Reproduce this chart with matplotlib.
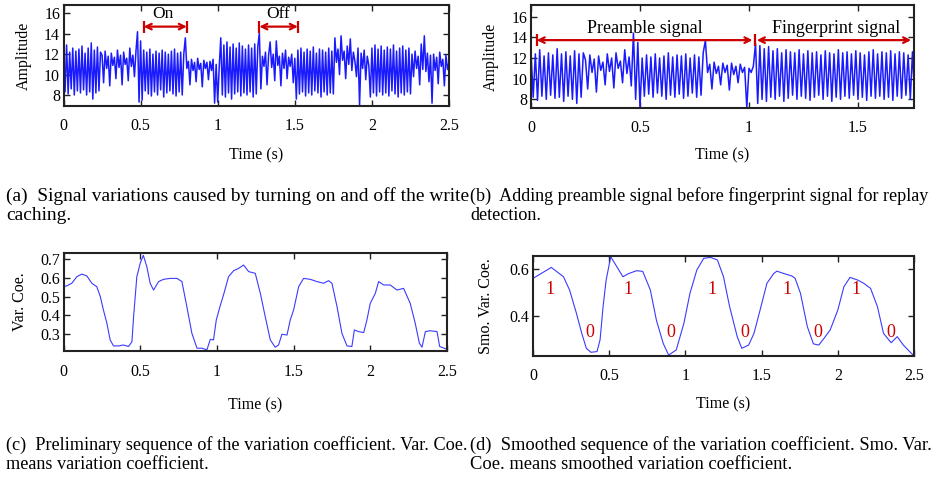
"""Four-panel write-caching signal figure with captions."""

import matplotlib

matplotlib.use("Agg")
import matplotlib.pyplot as plt
import numpy as np

# (a) raw amplitude, sampled every 0.01 s over 0-2.5 s
amp_a = [
    12.4, 8.3, 12.9, 8.1, 12.2, 8.6, 12.6, 8.0, 12.3, 8.4,
    12.5, 8.2, 12.8, 8.5, 12.1, 8.0, 12.6, 8.3, 13.1, 7.6,
    12.4, 8.2, 12.7, 8.4, 12.2,
    11.9, 9.2, 12.3, 10.6, 11.8,
    8.9, 12.1, 10.9, 11.7, 9.6, 12.4, 10.7, 11.9, 9.0, 12.2,
    11.0, 11.6, 9.4, 12.6, 10.8, 11.9, 9.8, 12.3,
    14.2, 7.3, 13.3, 7.5, 12.4,
    8.4, 12.2, 8.1, 12.5, 7.9, 12.0, 8.3,
    12.3, 8.0, 12.1, 8.5, 12.4, 7.8, 12.2, 8.2, 12.0, 8.4,
    12.3, 8.1, 12.5, 7.9, 12.1, 8.3, 12.2, 8.0, 12.0,
    13.6,
    10.6, 11.3, 9.0, 11.5, 10.4, 11.2, 9.3, 11.6, 10.5, 11.1,
    8.8, 11.4, 10.6, 11.2, 9.5, 11.3, 10.4, 11.5, 7.2, 11.0,
    7.3, 10.8,
    13.6, 8.0, 12.9, 7.8, 13.2, 8.2, 12.7, 7.6,
    13.0, 8.1, 12.6, 8.3, 13.1, 7.9, 12.8, 8.2, 12.5, 8.0,
    12.9, 8.3, 12.6, 7.8, 13.0, 8.1, 12.7,
    14.1, 8.6,
    11.8,
    10.8, 12.2, 9.0, 11.9, 13.2, 10.7, 12.0, 9.4, 13.3, 10.9,
    11.8, 8.9, 12.1, 10.6, 12.4, 9.6, 11.7, 10.8, 12.0, 9.2,
    11.6, 7.6,
    12.4, 8.1, 12.6, 8.3, 12.2, 7.9, 12.5, 8.2,
    12.3, 8.0, 12.7, 8.4, 12.1, 8.2, 12.5, 7.8, 12.4, 8.3,
    12.2, 8.0, 12.6, 8.2, 12.3, 8.1,
    13.6, 11.2, 12.5, 10.0,
    13.8, 11.4, 12.3, 9.6, 12.8, 11.0, 13.5, 10.4, 12.2, 11.3,
    9.8, 12.6, 7.0, 12.1, 10.6, 12.4, 9.5, 11.8, 10.9,
    7.8,
    12.6, 8.2, 12.9, 7.9, 12.5, 8.3, 12.8, 8.0, 12.4, 8.2,
    12.7, 7.9, 12.5, 8.4, 12.9, 8.1, 12.3, 7.8, 12.6, 8.2,
    12.8, 8.0, 12.4, 8.3, 12.6, 8.1,
    12.0, 9.8, 12.3, 10.6,
    11.8, 9.0, 13.0, 10.5, 13.8, 10.3, 12.1, 9.3, 11.9, 7.2,
    12.0, 10.4, 11.7, 9.1, 12.2, 10.8, 11.5, 8.9, 11.9, 10.5,
    11.2,
]

# (b) preamble + fingerprint amplitude, every 0.01 s over 0-1.76 s
amp_b = [
    12.6, 8.2, 12.4, 7.9, 12.8, 8.3, 12.2, 8.0, 12.5, 8.4,
    12.3, 8.1, 12.9, 8.2, 12.4, 7.8, 12.6, 8.3, 12.2, 8.0,
    12.7, 7.6, 12.4, 8.2, 12.5,
    11.8, 9.0, 12.3, 10.6, 11.9, 8.7, 12.2, 10.8, 11.6, 9.4,
    12.4, 10.7, 12.0, 9.1, 12.5, 11.0, 11.7, 9.6, 12.8, 10.5, 12.1, 9.3,
    14.4, 8.0, 13.5, 7.2,
    12.0, 8.3, 12.3, 8.5, 12.1, 8.2, 12.4, 8.6, 12.0,
    8.3, 12.2, 8.0, 12.5, 8.4, 12.1, 8.2, 12.3, 8.5, 12.2,
    8.1, 12.4, 8.3, 12.0, 8.6, 12.3, 8.2, 12.1, 8.4, 12.5,
    13.7,
    10.6, 11.4, 9.0, 11.6, 10.5, 11.2, 9.4, 11.5, 10.6,
    11.3, 8.9, 11.5, 10.4, 11.2, 9.6, 11.4, 10.6, 11.1, 7.2,
    11.0, 10.6, 11.2,
    13.4, 7.6, 13.2, 8.0, 12.9, 7.8, 13.1,
    8.2, 12.7, 8.0, 12.9, 8.3, 12.5, 7.8, 12.8, 8.1, 12.6,
    8.4, 12.5, 8.0, 12.8, 8.3, 12.4, 8.1, 12.7, 7.9, 12.5,
    8.2, 12.6, 8.4, 12.3, 8.0, 12.7, 8.3, 12.5, 7.8, 12.4,
    8.2, 12.8, 8.0, 12.5, 8.3, 12.6, 8.1, 12.4, 8.4, 12.7,
    8.0, 12.5, 8.2, 12.3, 7.9, 12.6, 8.3, 12.8, 8.1, 12.4,
    8.3, 12.6, 8.0, 12.5, 8.2, 12.7, 7.9, 12.4, 8.3, 12.6,
    8.1, 12.5, 8.4, 12.3, 8.0, 12.6, 8.2,
]

# (c) preliminary variation coefficient
t_c = [0, 0.02, 0.054, 0.087, 0.12, 0.152, 0.185, 0.217, 0.24, 0.26,
       0.283, 0.304, 0.326, 0.36, 0.39, 0.424, 0.446, 0.457, 0.478, 0.5,
       0.52, 0.543, 0.565, 0.587, 0.62, 0.652, 0.696, 0.74, 0.772, 0.804,
       0.837, 0.87, 0.902, 0.935, 0.957, 0.978, 0.996, 1.02, 1.043, 1.076,
       1.109, 1.141, 1.174, 1.207, 1.25, 1.283, 1.315, 1.348, 1.38, 1.402,
       1.424, 1.457, 1.478, 1.5, 1.533, 1.565, 1.609, 1.652, 1.696, 1.728,
       1.75, 1.783, 1.815, 1.848, 1.88, 1.896, 1.924, 1.957, 1.978, 2.0,
       2.033, 2.054, 2.087, 2.13, 2.174, 2.217, 2.26, 2.293, 2.32, 2.337,
       2.359, 2.39, 2.435, 2.452, 2.5]
var_c = [0.553, 0.557, 0.571, 0.606, 0.62, 0.61, 0.571, 0.553, 0.5, 0.43,
         0.358, 0.27, 0.238, 0.238, 0.243, 0.235, 0.26, 0.394, 0.606, 0.677,
         0.72, 0.66, 0.571, 0.535, 0.58, 0.592, 0.597, 0.597, 0.58, 0.447,
         0.305, 0.226, 0.226, 0.217, 0.273, 0.27, 0.376, 0.447, 0.509, 0.606,
         0.638, 0.65, 0.668, 0.633, 0.624, 0.518, 0.394, 0.27, 0.231, 0.243,
         0.3, 0.296, 0.376, 0.429, 0.553, 0.597, 0.592, 0.58, 0.571, 0.585,
         0.571, 0.447, 0.305, 0.238, 0.235, 0.323, 0.314, 0.309, 0.376, 0.465,
         0.518, 0.58, 0.562, 0.562, 0.535, 0.544, 0.465, 0.358, 0.252, 0.231,
         0.314, 0.319, 0.314, 0.235, 0.22]

# (d) smoothed variation coefficient
t_d = [0, 0.12, 0.2, 0.24, 0.285, 0.32, 0.35, 0.38, 0.42, 0.44,
       0.46, 0.48, 0.51, 0.55, 0.59, 0.625, 0.68, 0.72, 0.77, 0.81,
       0.855, 0.89, 0.94, 0.99, 1.03, 1.075, 1.12, 1.165, 1.21, 1.25,
       1.29, 1.34, 1.37, 1.415, 1.45, 1.49, 1.535, 1.58, 1.6, 1.645,
       1.7, 1.72, 1.755, 1.8, 1.84, 1.875, 1.91, 1.95, 2.0, 2.04,
       2.08, 2.13, 2.17, 2.215, 2.26, 2.3, 2.35, 2.39, 2.43, 2.5]
smo_d = [0.56, 0.607, 0.567, 0.51, 0.41, 0.324, 0.26, 0.243, 0.246, 0.296,
         0.44, 0.553, 0.653, 0.61, 0.567, 0.58, 0.593, 0.59, 0.51, 0.38,
         0.28, 0.231, 0.253, 0.367, 0.496, 0.596, 0.646, 0.65, 0.639, 0.567,
         0.439, 0.31, 0.26, 0.274, 0.324, 0.424, 0.539, 0.581, 0.591, 0.581,
         0.57, 0.56, 0.496, 0.353, 0.279, 0.274, 0.303, 0.339, 0.424, 0.524,
         0.564, 0.553, 0.539, 0.517, 0.439, 0.324, 0.284, 0.31, 0.274, 0.227]

# bit labels on (d)
bit_t = [0.11, 0.37, 0.62, 0.905, 1.175, 1.39, 1.667, 1.87, 2.12, 2.35]
bit_y = [0.514, 0.327, 0.514, 0.327, 0.514, 0.327, 0.514, 0.327, 0.514, 0.327]
bit_text = ["1", "0", "1", "0", "1", "0", "1", "0", "1", "0"]

captions = [
    ("(a)  Signal variations caused by turning on and off the write", "caching."),
    ("(b)  Adding preamble signal before fingerprint signal for replay", "detection."),
    ("(c)  Preliminary sequence of the variation coefficient. Var. Coe.", "means variation coefficient."),
    ("(d)  Smoothed sequence of the variation coefficient. Smo. Var.", "Coe. means smoothed variation coefficient."),
]

W, H = 940, 478
RED = "#cc0000"
BLUE = "#1a1aff"
plt.rcParams["font.family"] = ["Liberation Serif", "DejaVu Serif"]


def px_axes(fig, left, top, right, bottom):
    return fig.add_axes([left / W, 1 - bottom / H, (right - left) / W, (bottom - top) / H])


def style(ax, xlim, ylim, xticks, yticks, ylabel, ylab_x, xlab_y):
    ax.set_xlim(*xlim)
    ax.set_ylim(*ylim)
    ax.set_xticks(xticks)
    ax.set_xticklabels([f"{v:g}" for v in xticks])
    ax.set_yticks(yticks)
    ax.set_yticklabels([f"{v:g}" for v in yticks])
    for s in ax.spines.values():
        s.set_linewidth(1.5)
        s.set_color("#222222")
    ax.tick_params(direction="in", top=True, right=True, length=4, width=1,
                   labelsize=11.5, color="#222222")
    ax.tick_params(axis="x", pad=9)
    ax.tick_params(axis="y", pad=2.5)
    ylab = ax.set_ylabel(ylabel, fontsize=11.5)
    ylab.set_va("center")
    ax.yaxis.set_label_coords(ylab_x, 0.5)
    lab = ax.set_xlabel("Time (s)", fontsize=11.5)
    lab.set_va("center")
    ax.xaxis.set_label_coords(0.5, xlab_y)


def span(ax, x0, x1, y, half, bars, head_left=True):
    ax.annotate("", xy=(x1, y), xytext=(x0, y),
                arrowprops=dict(arrowstyle="<->" if head_left else "->", color=RED, lw=1.6,
                                shrinkA=0, shrinkB=0, mutation_scale=10))
    for xb in bars:
        ax.plot([xb, xb], [y - half, y + half], color=RED, lw=1.6, solid_capstyle="butt")


def main():
    fig = plt.figure(figsize=(W / 100, H / 100), dpi=100)

    # (a)
    ax = px_axes(fig, 63.5, 5, 449, 106)
    ta = np.linspace(0, 2.5, len(amp_a))
    ax.plot(ta, amp_a, color=BLUE, lw=1.1)
    style(ax, (0, 2.5), (6.92, 16.82), [0, 0.5, 1, 1.5, 2, 2.5], [8, 10, 12, 14, 16],
          "Amplitude", -0.1025, -0.485)
    span(ax, 0.52, 0.80, 14.7, 0.6, [0.52, 0.80])
    span(ax, 1.27, 1.52, 14.7, 0.6, [1.27, 1.52])
    ax.text(0.646, 15.9, "On", ha="center", va="center", fontsize=12.5)
    ax.text(1.39, 15.9, "Off", ha="center", va="center", fontsize=12.5)

    # (b)
    ax = px_axes(fig, 531, 5, 914, 108)
    tb = np.linspace(0, 1.76, len(amp_b))
    ax.plot(tb, amp_b, color=BLUE, lw=1.1)
    style(ax, (0, 1.757), (7.16, 17.13), [0, 0.5, 1, 1.5], [8, 10, 12, 14, 16],
          "Amplitude", -0.104, -0.456)
    span(ax, 0.026, 1.016, 13.73, 0.6, [0.026, 1.026])
    span(ax, 1.036, 1.744, 13.73, 0.6, [])
    ax.text(0.52, 14.87, "Preamble signal", ha="center", va="center", fontsize=13)
    ax.text(1.40, 14.87, "Fingerprint signal", ha="center", va="center", fontsize=13)

    # (c)
    ax = px_axes(fig, 63.5, 253, 447, 351)
    ax.plot(t_c, var_c, color="#3b3bff", lw=0.8)
    style(ax, (0, 2.5), (0.211, 0.732), [0, 0.5, 1, 1.5, 2, 2.5], [0.3, 0.4, 0.5, 0.6, 0.7],
          "Var. Coe.", -0.113, -0.551)

    # (d)
    ax = px_axes(fig, 533, 256, 914, 356)
    ax.plot(t_d, smo_d, color="#3b3bff", lw=0.8)
    style(ax, (0, 2.5), (0.227, 0.656), [0, 0.5, 1, 1.5, 2, 2.5], [0.4, 0.6],
          "Smo. Var. Coe.", -0.123, -0.48)
    for x, y, s in zip(bit_t, bit_y, bit_text):
        ax.text(x, y, s, color=RED, ha="center", va="center", fontsize=13)

    # captions: first line fitted to the column width like the justified original
    renderer = fig.canvas.get_renderer()
    spots = [(6, 201), (470, 201), (6, 450), (470, 450)]
    for (l1, l2), (x, y) in zip(captions, spots):
        t1 = fig.text(x / W, 1 - y / H, l1, fontsize=13, va="baseline", ha="left")
        size = 13 * 460 / t1.get_window_extent(renderer).width
        t1.set_fontsize(size)
        fig.text(x / W, 1 - (y + 19) / H, l2, fontsize=size, va="baseline", ha="left")

    fig.savefig("out.png", dpi=100)


if __name__ == "__main__":
    main()
